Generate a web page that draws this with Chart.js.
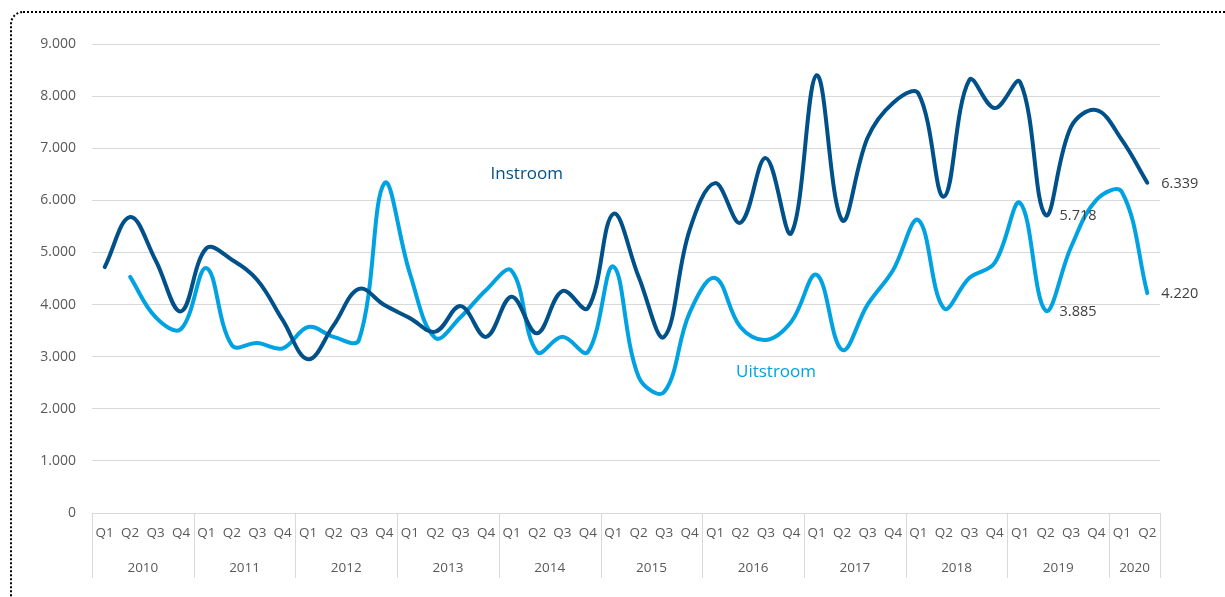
<!DOCTYPE html>
<html>
<head>
<meta charset="utf-8">
<script src="https://cdn.jsdelivr.net/npm/chart.js@4.4.1/dist/chart.umd.min.js"></script>
<style>
  html, body { margin: 0; padding: 0; background: #fff; }
  #wrap { position: relative; width: 1225px; height: 597px; overflow: hidden; }
  #frame { position: absolute; left: 10px; top: 11px; width: 1240px; height: 620px;
           border: 2px dotted #000; border-radius: 13px; box-sizing: border-box; pointer-events: none; }
  canvas { position: absolute; left: 0; top: 0; }
</style>
</head>
<body>
<div id="wrap">
  <canvas id="c" width="1225" height="597"></canvas>
  <div id="frame"></div>
</div>
<script>
const years = ["2010","2011","2012","2013","2014","2015","2016","2017","2018","2019","2020"];
const quarters = ["Q1","Q2","Q3","Q4"];
const quarterLabels = [];
const yearOfLabel = [];
years.forEach(y => {
  const n = (y === "2020") ? 2 : 4;
  for (let q = 0; q < n; q++) { quarterLabels.push(quarters[q]); yearOfLabel.push(y); }
});

const instroom = [4720, 5680, 4850, 3870, 5080, 4860, 4470, 3700,
                  2950, 3600, 4300, 3990, 3740, 3480, 3970, 3380,
                  4150, 3450, 4260, 3930, 5740, 4530, 3380, 5430,
                  6330, 5570, 6810, 5370, 8400, 5620, 7200, 7870,
                  8050, 6070, 8310, 7770, 8270, 5718, 7410, 7730,
                  7160, 6339];
const uitstroom = [null, 4530, 3760, 3530, 4700, 3220, 3260, 3160,
                   3570, 3380, 3320, 6330, 4600, 3360, 3760, 4280,
                   4650, 3090, 3380, 3090, 4730, 2610, 2320, 3840,
                   4510, 3570, 3320, 3670, 4570, 3130, 4000, 4660,
                   5620, 3930, 4510, 4800, 5950, 3885, 5100, 6010,
                   6160, 4220];
const yTicks = [0, 1000, 2000, 3000, 4000, 5000, 6000, 7000, 8000, 9000];
const seriesNames = ["Instroom", "Uitstroom"];
const labelledPoints = [37, 41];

const darkBlue = "#00518a";
const lightBlue = "#00a2e1";
const FONT = "'Open Sans', 'Liberation Sans', sans-serif";

function fmt(v) {
  const s = Math.round(v).toString();
  return s.replace(/\B(?=(\d{3})+(?!\d))/g, ".");
}

const overlay = {
  id: "overlay",
  afterDatasetsDraw(chart) {
    const ctx = chart.ctx;
    const xs = chart.scales.x, ys = chart.scales.y;
    const area = chart.chartArea;
    const half = (xs.getPixelForValue(1) - xs.getPixelForValue(0)) / 2;
    ctx.save();
    ctx.strokeStyle = "#d9d9d9";
    ctx.lineWidth = 1;
    let start = 0;
    const groups = [];
    for (let i = 1; i <= yearOfLabel.length; i++) {
      if (i === yearOfLabel.length || yearOfLabel[i] !== yearOfLabel[i - 1]) {
        groups.push([start, i - 1, yearOfLabel[i - 1]]);
        start = i;
      }
    }
    const bounds = new Set();
    groups.forEach(g => { bounds.add(g[0]); });
    bounds.add(yearOfLabel.length);
    bounds.forEach(k => {
      const x = Math.round(xs.getPixelForValue(0) - half + 2 * half * k) + 0.5;
      ctx.beginPath();
      ctx.moveTo(x, area.bottom);
      ctx.lineTo(x, area.bottom + 65);
      ctx.stroke();
    });
    ctx.fillStyle = "#595959";
    ctx.font = "13.5px " + FONT;
    ctx.textAlign = "center";
    ctx.textBaseline = "middle";
    groups.forEach(g => {
      const xc = (xs.getPixelForValue(g[0]) + xs.getPixelForValue(g[1])) / 2;
      ctx.fillText(g[2], xc, area.bottom + 55);
    });
    ctx.fillStyle = "#404040";
    ctx.font = "14.5px " + FONT;
    ctx.textAlign = "left";
    [instroom, uitstroom].forEach(arr => {
      labelledPoints.forEach(i => {
        const x = xs.getPixelForValue(i) + 14;
        const y = ys.getPixelForValue(arr[i]) + 1;
        ctx.fillText(fmt(arr[i]), x, y);
      });
    });
    ctx.font = "17px " + FONT;
    ctx.textAlign = "center";
    ctx.fillStyle = darkBlue;
    ctx.fillText(seriesNames[0], xs.getPixelForValue(16.6), ys.getPixelForValue(6500));
    ctx.fillStyle = lightBlue;
    ctx.fillText(seriesNames[1], xs.getPixelForValue(26.4), ys.getPixelForValue(2700));
    ctx.restore();
  }
};

new Chart(document.getElementById("c"), {
  type: "line",
  data: {
    labels: quarterLabels,
    datasets: [
      { label: seriesNames[0], data: instroom, borderColor: darkBlue, borderWidth: 4,
        pointRadius: 0, tension: 0.38, fill: false, borderCapStyle: "round", borderJoinStyle: "round" },
      { label: seriesNames[1], data: uitstroom, borderColor: lightBlue, borderWidth: 4,
        pointRadius: 0, tension: 0.38, fill: false, spanGaps: false, borderCapStyle: "round", borderJoinStyle: "round" }
    ]
  },
  options: {
    responsive: false,
    animation: false,
    events: [],
    layout: { padding: { left: 0, right: 65, top: 44, bottom: 0 } },
    plugins: { legend: { display: false }, tooltip: { enabled: false } },
    scales: {
      x: {
        offset: true,
        grid: { display: true, drawOnChartArea: false, drawTicks: false, offset: true, color: "#d9d9d9" },
        border: { display: true, color: "#d9d9d9", width: 1 },
        ticks: { color: "#595959", font: { family: FONT, size: 13.5 }, padding: 12,
                 maxRotation: 0, minRotation: 0, autoSkip: false },
        afterFit: s => { s.height = 84; }
      },
      y: {
        min: 0, max: 9000,
        afterBuildTicks: s => { s.ticks = yTicks.map(v => ({ value: v })); },
        grid: { color: "#d9d9d9", lineWidth: 1, drawTicks: false },
        border: { display: false },
        ticks: { color: "#595959", font: { family: FONT, size: 14 }, padding: 16,
                 callback: v => fmt(v) },
        afterFit: s => { s.width = 92; }
      }
    }
  },
  plugins: [overlay]
});
</script>
</body>
</html>
